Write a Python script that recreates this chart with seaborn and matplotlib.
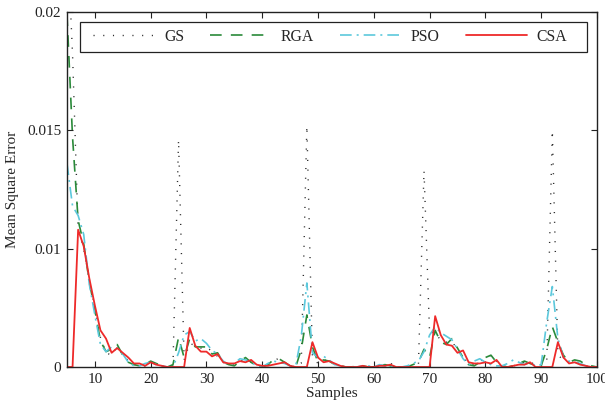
import numpy as np
import pandas as pd
import matplotlib
matplotlib.use("Agg")
import matplotlib.pyplot as plt
from matplotlib.patches import Rectangle
import seaborn as sns

samples = list(range(5, 101))

gs = [0.0235, 0.0182, 0.0108, 0.0100, 0.0074, 0.0050, 0.0025, 0.0012, 0.0010, 0.0017,
      0.0011, 0.0005, 0.0002, 0.0002, 0.0001, 0.0003, 0.0003, 0.0001, 0.0, 0.0001,
      0.0146, 0.0006, 0.0020, 0.0018, 0.0016, 0.0017, 0.0013, 0.0009, 0.0004, 0.0002,
      0.0002, 0.0005, 0.0006, 0.0004, 0.0002, 0.0, 0.0002, 0.0004, 0.0008, 0.0004,
      0.0001, 0.0, 0.0003, 0.0152, 0.0008, 0.0003, 0.0006, 0.0005, 0.0002, 0.0001,
      0.0, 0.0, 0.0, 0.0001, 0.0, 0.0, 0.0001, 0.0002, 0.0003, 0.0001,
      0.0, 0.0, 0.0001, 0.0002, 0.0133, 0.0028, 0.0030, 0.0022, 0.0021, 0.0022,
      0.0014, 0.0009, 0.0002, 0.0002, 0.0005, 0.0007, 0.0010, 0.0005, 0.0001, 0.0,
      0.0001, 0.0002, 0.0004, 0.0005, 0.0001, 0.0001, 0.0004, 0.0150, 0.0010, 0.0006,
      0.0004, 0.0005, 0.0003, 0.0001, 0.0, 0.0]

rga = [0.0199, 0.0147, 0.0112, 0.0102, 0.0072, 0.0048, 0.0022, 0.0013, 0.0015, 0.0019,
       0.0010, 0.0004, 0.0002, 0.0001, 0.0002, 0.0005, 0.0003, 0.0001, 0.0, 0.0002,
       0.0025, 0.0008, 0.0024, 0.0017, 0.0017, 0.0017, 0.0011, 0.0012, 0.0004, 0.0002,
       0.0001, 0.0005, 0.0008, 0.0004, 0.0001, 0.0, 0.0002, 0.0006, 0.0007, 0.0004,
       0.0001, 0.0, 0.0015, 0.0044, 0.0017, 0.0004, 0.0006, 0.0005, 0.0002, 0.0001,
       0.0, 0.0, 0.0001, 0.0001, 0.0, 0.0, 0.0001, 0.0002, 0.0001, 0.0,
       0.0, 0.0, 0.0002, 0.0004, 0.0015, 0.0008, 0.0031, 0.0021, 0.0019, 0.0024,
       0.0016, 0.0008, 0.0002, 0.0001, 0.0004, 0.0008, 0.0010, 0.0004, 0.0001, 0.0,
       0.0001, 0.0003, 0.0005, 0.0003, 0.0001, 0.0001, 0.0015, 0.0034, 0.0021, 0.0010,
       0.0004, 0.0006, 0.0005, 0.0002, 0.0001, 0.0]

pso = [0.0136, 0.0118, 0.0114, 0.0106, 0.0070, 0.0044, 0.0019, 0.0013, 0.0017, 0.0016,
       0.0011, 0.0004, 0.0001, 0.0001, 0.0003, 0.0004, 0.0002, 0.0001, 0.0, 0.0,
       0.0012, 0.0027, 0.0030, 0.0022, 0.0024, 0.0020, 0.0014, 0.0011, 0.0005, 0.0002,
       0.0003, 0.0007, 0.0006, 0.0004, 0.0001, 0.0, 0.0003, 0.0005, 0.0004, 0.0003,
       0.0001, 0.0001, 0.0026, 0.0071, 0.0012, 0.0008, 0.0009, 0.0006, 0.0002, 0.0001,
       0.0, 0.0, 0.0, 0.0001, 0.0001, 0.0, 0.0002, 0.0001, 0.0001, 0.0,
       0.0, 0.0001, 0.0003, 0.0005, 0.0013, 0.0027, 0.0034, 0.0029, 0.0026, 0.0023,
       0.0015, 0.0007, 0.0002, 0.0005, 0.0007, 0.0004, 0.0002, 0.0001, 0.0001, 0.0003,
       0.0006, 0.0004, 0.0002, 0.0004, 0.0001, 0.0002, 0.0038, 0.0068, 0.0024, 0.0008,
       0.0005, 0.0004, 0.0003, 0.0001, 0.0, 0.0]

csa = [0.0, 0.0, 0.0108, 0.0101, 0.0075, 0.0052, 0.0031, 0.0024, 0.0012, 0.0016,
       0.0012, 0.0008, 0.0003, 0.0003, 0.0001, 0.0004, 0.0002, 0.0001, 0.0, 0.0,
       0.0, 0.0, 0.0033, 0.0018, 0.0013, 0.0013, 0.0009, 0.0011, 0.0004, 0.0003,
       0.0003, 0.0005, 0.0004, 0.0006, 0.0002, 0.0001, 0.0001, 0.0002, 0.0003, 0.0004,
       0.0001, 0.0, 0.0, 0.0, 0.0021, 0.0008, 0.0004, 0.0005, 0.0003, 0.0001,
       0.0, 0.0, 0.0, 0.0001, 0.0, 0.0, 0.0001, 0.0001, 0.0002, 0.0,
       0.0, 0.0, 0.0, 0.0, 0.0, 0.0, 0.0043, 0.0027, 0.0019, 0.0018,
       0.0012, 0.0014, 0.0004, 0.0003, 0.0003, 0.0004, 0.0003, 0.0006, 0.0, 0.0,
       0.0001, 0.0002, 0.0002, 0.0004, 0.0, 0.0, 0.0, 0.0, 0.0021, 0.0008,
       0.0003, 0.0004, 0.0002, 0.0001, 0.0, 0.0]

methods = ["GS", "RGA", "PSO", "CSA"]
x_ticks = [10, 20, 30, 40, 50, 60, 70, 80, 90, 100]
y_ticks = [0, 0.01, 0.015, 0.02]
y_tick_labels = ["0", "0.01", "0.015", "0.02"]

df = pd.DataFrame({
    "Samples": samples * 4,
    "MSE": gs + rga + pso + csa,
    "Method": sum([[m] * len(samples) for m in methods], []),
})

sns.set_style("ticks")
plt.rcParams["font.family"] = "serif"
plt.rcParams["font.serif"] = ["Liberation Serif", "DejaVu Serif"]
plt.rcParams["xtick.direction"] = "in"
plt.rcParams["ytick.direction"] = "in"

palette = {"GS": "#2b2b2b", "RGA": "#2a8a3a", "PSO": "#5cc8dc", "CSA": "#ee2a2a"}
dashes = {"GS": (0.8, 6.2), "RGA": (7, 5.5), "PSO": (7, 3, 1.2, 3), "CSA": ""}
widths = {"GS": 1.0, "RGA": 1.2, "PSO": 1.2, "CSA": 1.3}

fig = plt.figure(figsize=(6.05, 4.05), dpi=100)
ax = fig.add_axes([0.1107, 0.0938, 0.8760, 0.8766])

for m in methods:
    sub = df[df["Method"] == m]
    sns.lineplot(data=sub, x="Samples", y="MSE", ax=ax, color=palette[m],
                 linewidth=widths[m], label=m, legend=False)
    ln = ax.lines[-1]
    if dashes[m]:
        ln.set_dashes(dashes[m])

# Piecewise-linear y scale: 0..0.01 occupies the same height as each 0.005 step above it
def fwd(y):
    y = np.asarray(y, dtype=float)
    return np.where(y < 0.01, y * 0.5, y - 0.005)

def inv(u):
    u = np.asarray(u, dtype=float)
    return np.where(u < 0.005, u * 2.0, u + 0.005)

ax.set_yscale("function", functions=(fwd, inv))
ax.set_ylim(0, 0.02)
ax.set_xlim(5, 100)
ax.set_yticks(y_ticks)
ax.set_yticklabels(y_tick_labels)
ax.set_xticks(x_ticks)
ax.set_xticklabels([str(t) for t in x_ticks])
ax.minorticks_off()
ax.tick_params(axis="both", which="both", direction="in", length=4, width=0.8,
               top=True, right=True, labelsize=11, colors="#222222", pad=4)
for sp in ax.spines.values():
    sp.set_visible(True)
    sp.set_linewidth(1.0)
    sp.set_color("#222222")

ax.set_xlabel("Samples", fontsize=11, labelpad=1)
ax.set_ylabel("Mean Square Error", fontsize=11, labelpad=6)

# legend box drawn as a white framed rectangle, entries placed inside it
ax.add_patch(Rectangle((0.0245, 0.8873), 0.9566, 0.0845, transform=ax.transAxes,
                       facecolor="white", edgecolor="#222222", linewidth=0.9,
                       zorder=5))
leg = ax.legend(loc="center left", bbox_to_anchor=(0.049, 0.9296), ncol=4,
                fontsize=11.3, handlelength=3.9, handletextpad=0.62,
                borderaxespad=0.0, borderpad=0.0, columnspacing=1.65,
                frameon=False)
leg.set_zorder(6)

fig.savefig("out.png", dpi=100)
